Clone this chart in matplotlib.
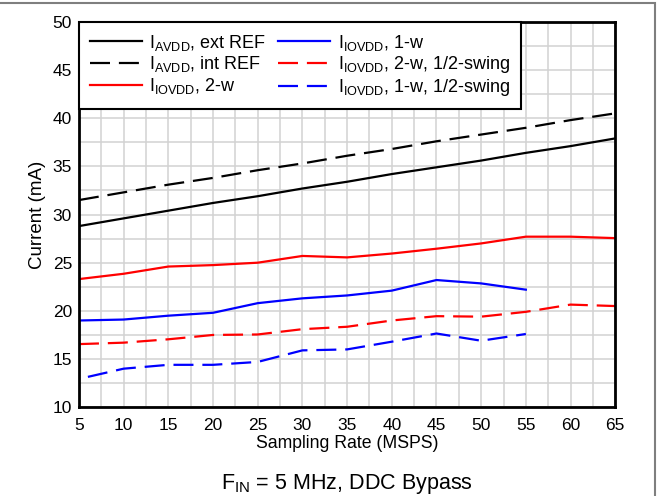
import matplotlib
matplotlib.use('Agg')
import matplotlib.pyplot as plt
from matplotlib.patches import Rectangle

plt.rcParams['font.family'] = ['Liberation Sans', 'DejaVu Sans']
plt.rcParams['mathtext.fontset'] = 'custom'
plt.rcParams['mathtext.rm'] = 'Liberation Sans'
plt.rcParams['mathtext.it'] = 'Liberation Sans'

# sampling rates (MSPS)
rate = [5, 10, 15, 20, 25, 30, 35, 40, 45, 50, 55, 60, 65]
rate_55 = [5, 10, 15, 20, 25, 30, 35, 40, 45, 50, 55]
rate_1w_half = [6, 10, 15, 20, 25, 30, 35, 40, 45, 50, 55]

# currents (mA)
avdd_ext = [28.8, 29.6, 30.4, 31.2, 31.9, 32.7, 33.4, 34.2, 34.9, 35.6, 36.4, 37.1, 37.9]
avdd_int = [31.5, 32.3, 33.1, 33.8, 34.6, 35.3, 36.1, 36.8, 37.6, 38.3, 39.0, 39.8, 40.5]
iovdd_2w = [23.3, 23.85, 24.6, 24.75, 25.0, 25.7, 25.55, 25.95, 26.45, 27.0, 27.7, 27.7, 27.55]
iovdd_1w = [19.0, 19.1, 19.5, 19.8, 20.8, 21.3, 21.6, 22.1, 23.2, 22.85, 22.2]
iovdd_2w_half = [16.55, 16.7, 17.05, 17.5, 17.55, 18.1, 18.35, 19.0, 19.45, 19.4, 19.9, 20.65, 20.5]
iovdd_1w_half = [13.15, 14.0, 14.4, 14.4, 14.7, 15.9, 16.0, 16.8, 17.65, 16.9, 17.6]

xticks = list(range(5, 70, 5))
yticks = list(range(10, 55, 5))

fig = plt.figure(figsize=(6.58, 4.96), dpi=100)
ax = fig.add_axes([0.120, 0.179, 0.815, 0.777])

lw = 1.6
dash = (9, 4)
ax.plot(rate, avdd_ext, color='black', lw=lw, label=r'I$_{\mathrm{AVDD}}$, ext REF')
ax.plot(rate, avdd_int, color='black', lw=lw, dashes=dash, label=r'I$_{\mathrm{AVDD}}$, int REF')
ax.plot(rate, iovdd_2w, color='#ff0000', lw=lw, label=r'I$_{\mathrm{IOVDD}}$, 2-w')
ax.plot(rate_55, iovdd_1w, color='#0000ff', lw=lw, label=r'I$_{\mathrm{IOVDD}}$, 1-w')
ax.plot(rate, iovdd_2w_half, color='#ff0000', lw=lw, dashes=dash,
        label=r'I$_{\mathrm{IOVDD}}$, 2-w, 1/2-swing')
ax.plot(rate_1w_half, iovdd_1w_half, color='#0000ff', lw=lw, dashes=dash,
        label=r'I$_{\mathrm{IOVDD}}$, 1-w, 1/2-swing')

ax.set_xlim(5, 65)
ax.set_ylim(10, 50)
ax.set_xticks(xticks)
ax.set_yticks(yticks)
ax.set_xticks([x + 2.5 for x in xticks[:-1]], minor=True)
ax.set_yticks([y + 2.5 for y in yticks[:-1]], minor=True)
ax.grid(True, which='both', color='#d2d2d2', lw=1.1)
ax.set_axisbelow(True)
ax.tick_params(which='both', length=0, labelsize=12.5)
ax.tick_params(axis='x', pad=8)
ax.tick_params(axis='y', pad=5)
for s in ax.spines.values():
    s.set_linewidth(2)
    s.set_color('black')

ax.set_xlabel('Sampling Rate (MSPS)', fontsize=12.7, labelpad=1)
ax.set_ylabel('Current (mA)', fontsize=13.5, labelpad=5)

leg = ax.legend(loc='upper left', ncol=2, fontsize=13, frameon=True, fancybox=False,
                borderaxespad=0, handlelength=2.9, handletextpad=0.4,
                columnspacing=0.65, labelspacing=0.1, borderpad=0.6)
leg.get_frame().set_edgecolor('black')
leg.get_frame().set_linewidth(1.5)
leg.get_frame().set_alpha(1)

fig.text(0.527, 0.014, r'F$_{\mathrm{IN}}$ = 5 MHz, DDC Bypass', ha='center', va='baseline',
         fontsize=15.5)

# outer gray frame (only top and right visible)
fig.patches.append(Rectangle((-0.05, -0.05), 1.046, 1.044, transform=fig.transFigure,
                             fill=False, edgecolor='#7f7f7f', lw=1.5))

fig.savefig('out.png', dpi=100)
